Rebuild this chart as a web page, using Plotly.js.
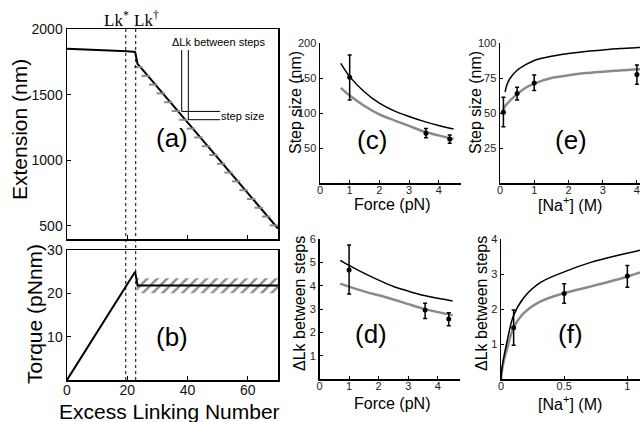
<!DOCTYPE html>
<html><head><meta charset="utf-8">
<script src="https://cdn.plot.ly/plotly-3.0.1.min.js"></script>
<style>html,body{margin:0;padding:0;background:#fff}#chart{width:640px;height:422px}</style>
</head><body><div id="chart"></div><script>
// ---------- (a) extension vs excess linking number ----------
const lkA = [0, 10, 20, 22.6, 23.0, 23.4, 24.5, 70];
const extA = [1850, 1842, 1830, 1825, 1790, 1735, 1705, 480];
const stepLk = [23.6, 26.1, 28.6, 31.1, 33.6, 36.1, 38.6, 41.1, 43.6, 46.1, 48.6, 51.1, 53.6, 56.1, 58.6, 61.1, 63.6, 66.1, 68.6];
const stepExt = [1710, 1643, 1576, 1509, 1442, 1375, 1308, 1241, 1174, 1107, 1040, 973, 906, 839, 772, 705, 638, 571, 504];
// ---------- (b) torque ----------
const lkB = [0, 22.6, 23.4, 70];
const torqueB = [0, 25, 21.8, 21.8];
const bandLk = [23.1, 70];
const bandLo = [20.0, 20.0];
const bandHi = [23.5, 23.5];
const lkMarks = [19.5, 22.8];
// ---------- (c) step size vs force ----------
const forceCurve = [0.7, 1, 1.5, 2, 2.5, 3, 3.5, 4, 4.5];
const stepBlackF = [171, 152, 130, 114, 103, 95, 88, 82, 77];
const stepGrayF = [136, 125, 110, 98, 89.5, 81.5, 73.5, 68, 63];
const forceData = [1, 3.57, 4.37];
const stepDataF = [151, 71, 63];
const stepErrUpF = [32, 7, 5.7];
const stepErrDnF = [32.4, 6.3, 6.2];
// ---------- (d) dLk vs force ----------
const dLkBlackF = [5.1, 4.88, 4.55, 4.25, 3.98, 3.78, 3.6, 3.47, 3.36];
const dLkGrayF = [4.1, 3.97, 3.77, 3.6, 3.42, 3.22, 3.03, 2.88, 2.75];
const dLkDataF = [4.68, 2.97, 2.58];
const dLkErrUpF = [1.08, 0.29, 0.27];
const dLkErrDnF = [1.02, 0.36, 0.28];
// ---------- (e) step size vs [Na+] ----------
const naBlackE = [0.15, 0.2, 0.3, 0.5, 0.75, 1, 1.5, 2, 2.5, 3, 3.5, 4, 4.09];
const stepBlackNa = [65, 70, 75, 80.5, 84.5, 87.5, 90.5, 92.5, 94, 95, 96, 96.7, 96.8];
const naGrayE = [0.08, 0.15, 0.3, 0.5, 0.75, 1, 1.5, 2, 2.5, 3, 3.5, 4.09];
const stepGrayNa = [51, 55, 59, 63.5, 68, 71, 75, 77, 78.5, 79.5, 80.4, 81.2];
const naDataE = [0.1, 0.5, 1, 4];
const stepDataNa = [50.5, 64, 71.5, 77.5];
const stepErrUpNa = [10.7, 4.4, 5.6, 6.8];
const stepErrDnNa = [10.3, 4.7, 5.5, 7];
// ---------- (f) dLk vs [Na+] ----------
const naCurveF = [0, 0.005, 0.018, 0.045, 0.097, 0.18, 0.31, 0.5, 0.71, 0.97, 1.1];
const dLkBlackNa = [0, 0.25, 0.55, 1.03, 1.8, 2.33, 2.76, 3.07, 3.34, 3.58, 3.69];
const dLkGrayNa = [0, 0.17, 0.46, 0.84, 1.45, 1.89, 2.22, 2.46, 2.65, 2.9, 3.05];
const naDataF = [0.1, 0.5, 1.0];
const dLkDataNa = [1.47, 2.45, 2.95];
const dLkErrUpNa = [0.51, 0.28, 0.3];
const dLkErrDnNa = [0.5, 0.28, 0.32];

const BLACK = '#000';
const GRAY = '#8a8a8a';
const FONT = 'Liberation Sans, Arial, sans-serif';

function curve(x, y, color, w, xa, ya) {
  return {x: x, y: y, mode: 'lines', line: {color: color, width: w, shape: 'spline', smoothing: 0.9}, xaxis: xa, yaxis: ya, hoverinfo: 'skip'};
}
function pts(x, y, up, dn, xa, ya) {
  return {x: x, y: y, mode: 'markers', marker: {color: BLACK, size: 5, symbol: 'circle'},
    error_y: {type: 'data', symmetric: false, array: up, arrayminus: dn, color: BLACK, thickness: 1.5, width: 2},
    xaxis: xa, yaxis: ya, cliponaxis: false};
}

const traces = [
  {x: lkA, y: extA, mode: 'lines', line: {color: BLACK, width: 2}, xaxis: 'x', yaxis: 'y'},
  {x: stepLk, y: stepExt, mode: 'markers', marker: {symbol: 'line-ew', size: 6, line: {color: GRAY, width: 2}}, xaxis: 'x', yaxis: 'y'},
  {x: bandLk, y: bandLo, mode: 'lines', line: {width: 0}, xaxis: 'x2', yaxis: 'y2'},
  {x: bandLk, y: bandHi, mode: 'lines', line: {width: 0}, fill: 'tonexty', fillcolor: 'rgba(0,0,0,0)',
   fillpattern: {shape: '/', fgcolor: GRAY, bgcolor: 'white', size: 7, solidity: 0.35}, xaxis: 'x2', yaxis: 'y2'},
  {x: lkB, y: torqueB, mode: 'lines', line: {color: BLACK, width: 2}, xaxis: 'x2', yaxis: 'y2'},
  curve(forceCurve, stepGrayF, GRAY, 2.5, 'x3', 'y3'),
  curve(forceCurve, stepBlackF, BLACK, 1.5, 'x3', 'y3'),
  pts(forceData, stepDataF, stepErrUpF, stepErrDnF, 'x3', 'y3'),
  curve(forceCurve, dLkGrayF, GRAY, 2.5, 'x4', 'y4'),
  curve(forceCurve, dLkBlackF, BLACK, 1.5, 'x4', 'y4'),
  pts(forceData, dLkDataF, dLkErrUpF, dLkErrDnF, 'x4', 'y4'),
  curve(naGrayE, stepGrayNa, GRAY, 2.5, 'x5', 'y5'),
  curve(naBlackE, stepBlackNa, BLACK, 1.5, 'x5', 'y5'),
  pts(naDataE, stepDataNa, stepErrUpNa, stepErrDnNa, 'x5', 'y5'),
  curve(naCurveF, dLkGrayNa, GRAY, 2.5, 'x6', 'y6'),
  curve(naCurveF, dLkBlackNa, BLACK, 1.5, 'x6', 'y6'),
  pts(naDataF, dLkDataNa, dLkErrUpNa, dLkErrDnNa, 'x6', 'y6')
];

const W = 640, H = 422;
const px = v => v / W;
const py = v => 1 - v / H;

const boxAx = {showline: true, linecolor: BLACK, linewidth: 1.5, mirror: true, ticks: 'inside', ticklen: 4, tickcolor: BLACK,
  showgrid: false, zeroline: false, tickfont: {family: FONT, size: 14, color: '#111'}};
const openAx = {showline: true, linecolor: BLACK, linewidth: 1.5, mirror: false, ticks: 'inside', ticklen: 3, tickcolor: BLACK,
  showgrid: false, zeroline: false, tickfont: {family: FONT, size: 11, color: '#222'}};
const openX = Object.assign({}, openAx, {ticklabelstandoff: -4});

const layout = {
  width: W, height: H, margin: {l: 0, r: 0, t: 0, b: 0}, paper_bgcolor: '#fff', plot_bgcolor: '#fff',
  showlegend: false, font: {family: FONT, color: '#000'},
  xaxis: Object.assign({}, boxAx, {domain: [px(67), px(278)], anchor: 'y', range: [0, 70], tickvals: [20, 40, 60], showticklabels: false}),
  yaxis: Object.assign({}, boxAx, {domain: [py(239), py(29)], anchor: 'x', range: [400, 2000], tickvals: [500, 1000, 1500, 2000]}),
  xaxis2: Object.assign({}, boxAx, {domain: [px(67), px(278)], anchor: 'y2', range: [0, 70], tickvals: [0, 20, 40, 60], ticklabelstandoff: -3}),
  yaxis2: Object.assign({}, boxAx, {domain: [py(380), py(250)], anchor: 'x2', range: [0, 30], tickvals: [10, 20, 30]}),
  xaxis3: Object.assign({}, openX, {domain: [px(320), px(461)], anchor: 'y3', range: [0, 4.75], tickvals: [0, 1, 2, 3, 4]}),
  yaxis3: Object.assign({}, openAx, {domain: [py(183), py(43)], anchor: 'x3', range: [0, 200], tickvals: [50, 100, 150, 200]}),
  xaxis4: Object.assign({}, openX, {domain: [px(319.5), px(460)], anchor: 'y4', range: [0, 4.75], tickvals: [0, 1, 2, 3, 4]}),
  yaxis4: Object.assign({}, openAx, {domain: [py(379.3), py(239.3)], anchor: 'x4', range: [0, 6], tickvals: [1, 2, 3, 4, 5, 6]}),
  xaxis5: Object.assign({}, openX, {domain: [px(500), 1], anchor: 'y5', range: [0, 4.09], tickvals: [0, 1, 2, 3, 4]}),
  yaxis5: Object.assign({}, openAx, {domain: [py(183), py(43)], anchor: 'x5', range: [0, 100], tickvals: [25, 50, 75, 100]}),
  xaxis6: Object.assign({}, openX, {domain: [px(501), 1], anchor: 'y6', range: [0, 1.1], tickvals: [0, 0.5, 1]}),
  yaxis6: Object.assign({}, openAx, {domain: [py(379.3), py(239.3)], anchor: 'x6', range: [0, 4], tickvals: [1, 2, 3, 4]}),
  shapes: [
    ...lkMarks.map(v => ({type: 'line', xref: 'x', yref: 'paper', x0: v, x1: v, y0: py(380), y1: py(29), line: {color: BLACK, width: 1, dash: 'dot'}})),
    {type: 'line', xref: 'x', yref: 'y', x0: 38.05, x1: 38.05, y0: 1840, y1: 1372, line: {color: BLACK, width: 1}},
    {type: 'line', xref: 'x', yref: 'y', x0: 40.25, x1: 40.25, y0: 1840, y1: 1309, line: {color: BLACK, width: 1}},
    {type: 'line', xref: 'x', yref: 'y', x0: 38.05, x1: 50.8, y0: 1372, y1: 1372, line: {color: BLACK, width: 1}},
    {type: 'line', xref: 'x', yref: 'y', x0: 40.25, x1: 50.8, y0: 1309, y1: 1309, line: {color: BLACK, width: 1}}
  ],
  annotations: []
};

function ann(text, x, y, size, opts) {
  return Object.assign({text: text, xref: 'paper', yref: 'paper', x: px(x), y: py(y), showarrow: false,
    xanchor: 'center', yanchor: 'middle', font: {family: FONT, size: size, color: '#000'}}, opts || {});
}
const SERIF = {family: 'Liberation Serif, Times New Roman, serif', size: 17, color: '#000'};
layout.annotations.push(
  ann('Lk<sup>*</sup>', 116, 19, 17, {font: SERIF}),
  ann('Lk<sup>†</sup>', 146, 19, 17, {font: SERIF}),
  ann('ΔLk between steps', 218, 42, 11),
  ann('step size', 242, 116, 11),
  ann('(a)', 172, 138, 26), ann('(b)', 172, 337, 26),
  ann('(c)', 372, 140, 26), ann('(e)', 571, 140, 26),
  ann('(d)', 371, 334, 26), ann('(f)', 570, 334, 26),
  ann('Extension (nm)', 20, 130, 21, {textangle: -90}),
  ann('Torque (pNnm)', 34, 314, 21, {textangle: -90}),
  ann('Excess Linking Number', 169, 411, 21),
  ann('Step size (nm)', 295, 103, 16, {textangle: -90}),
  ann('Step size (nm)', 475, 103, 16, {textangle: -90}),
  ann('ΔLk between steps', 299, 304, 16, {textangle: -90}),
  ann('ΔLk between steps', 481, 304, 16, {textangle: -90}),
  ann('Force (pN)', 392, 204, 16),
  ann('[Na<sup>+</sup>] (M)', 570, 204, 16),
  ann('Force (pN)', 392, 403, 16),
  ann('[Na<sup>+</sup>] (M)', 570, 403, 16)
);

Plotly.newPlot('chart', traces, layout, {staticPlot: true, displayModeBar: false});
</script></body></html>
